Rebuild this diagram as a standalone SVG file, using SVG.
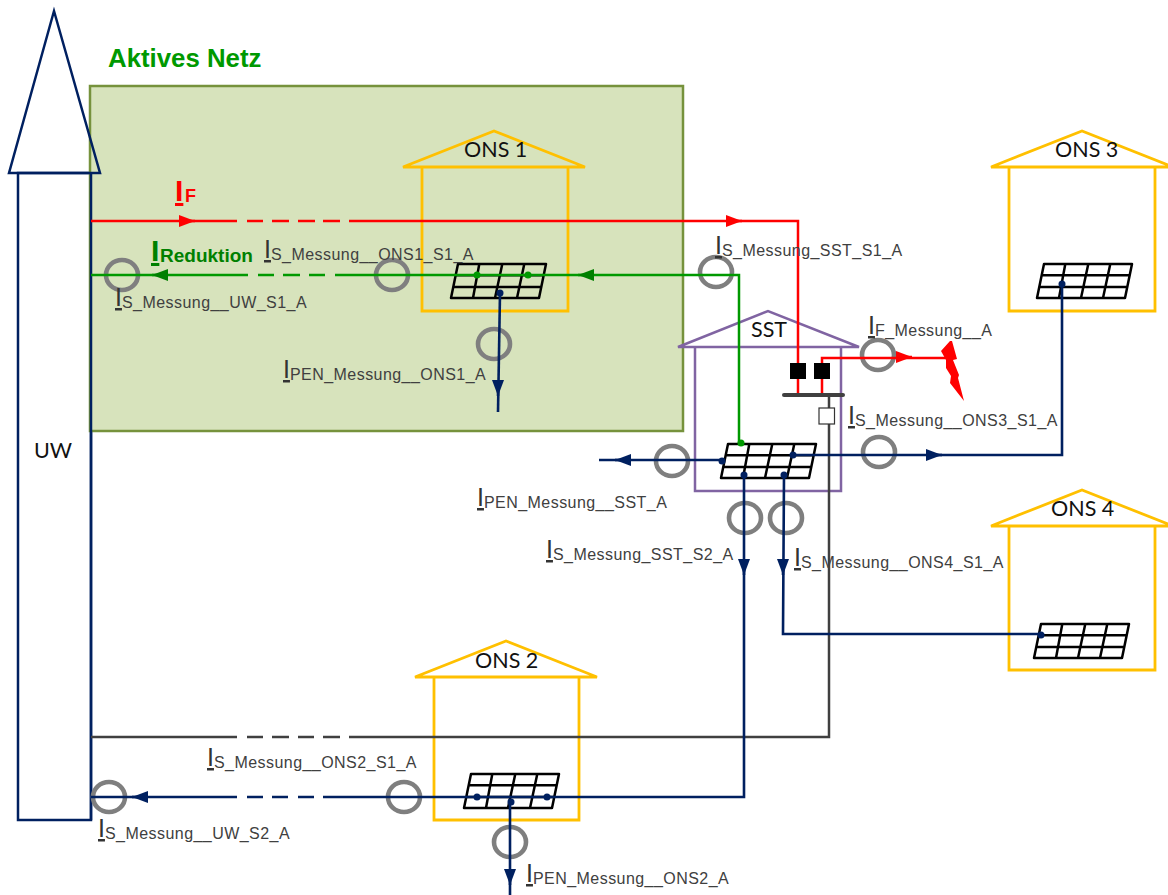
<svg xmlns="http://www.w3.org/2000/svg" xmlns:xlink="http://www.w3.org/1999/xlink" width="1168" height="895" viewBox="0 0 1168 895">
<style>
.house{fill:none;stroke:#FFC000;stroke-width:2.8;stroke-linejoin:miter}
.sst{fill:none;stroke:#8064A2;stroke-width:2.5}
.uw{stroke:#002060;stroke-width:2.5;stroke-linejoin:miter}
.grid{fill:none;stroke:#000;stroke-width:2.5;stroke-linejoin:round}
.ring{fill:none;stroke:#7F7F7F;stroke-width:4.600}
.red{fill:none;stroke:#FF0000;stroke-width:2.500}
.grn{fill:none;stroke:#009900;stroke-width:2.500}
.nav{fill:none;stroke:#002060;stroke-width:2.600}
.gry{fill:none;stroke:#404040;stroke-width:2.500}
.dn{fill:#002060}.dg{fill:#009900}
.name{font-family:"Lato","Liberation Sans",sans-serif;font-size:21.500px;fill:#111}
.lbl{font-family:"Liberation Sans",Arial,sans-serif;fill:#404040;font-size:16px;letter-spacing:.45px}
.lbl .i{font-size:25px;letter-spacing:0;text-decoration:underline;fill:#333}
.red-t{font-family:"Liberation Sans",Arial,sans-serif;font-weight:bold;fill:#FF0000}
.grn-t{font-family:"Liberation Sans",Arial,sans-serif;font-weight:bold;fill:#008000}
</style>
<defs>
<marker id="aN" markerUnits="userSpaceOnUse" viewBox="0 0 16 12" refX="16" refY="6" markerWidth="16" markerHeight="12" orient="auto"><path d="M0,0L16,6L0,12Z" fill="#002060"/></marker>
<marker id="aR" markerUnits="userSpaceOnUse" viewBox="0 0 16 12" refX="16" refY="6" markerWidth="16" markerHeight="12" orient="auto"><path d="M0,0L16,6L0,12Z" fill="#FF0000"/></marker>
<marker id="aG" markerUnits="userSpaceOnUse" viewBox="0 0 16 12" refX="16" refY="6" markerWidth="16" markerHeight="12" orient="auto"><path d="M0,0L16,6L0,12Z" fill="#008000"/></marker>
<path id="g" class="grid" d="M7,0H95L88,34H0ZM4.700,11.300H92.600M2.400,23H90.200M28.300,0L22,34M51.300,0L44,34M73.300,0L66,34"/>
</defs>

<g id="UW">
<polygon points="9,173 54,11 100,173" fill="#fff" stroke="none"/>
<rect x="18" y="173" width="73" height="647" fill="#fff" class="uw"/>
</g>
<g id="aktives-netz">
<rect x="90" y="86" width="593" height="345" fill="#D7E3BC" stroke="#76923C" stroke-width="2.5"/>
</g>
<g id="UW-outline">
<polygon points="9,173 54,11 100,173" fill="none" class="uw"/>
<path d="M91,173V820" fill="none" class="uw"/>
<text class="name" x="34" y="458">UW</text>
</g>
<text x="108" y="67" font-family="Liberation Sans, Arial, sans-serif" font-weight="bold" font-size="25.800" fill="#009900">Aktives Netz</text>

<g id="ONS1"><path class="house" d="M403,167L494,131L585,167ZM422,167V311H568V167"/><use xlink:href="#g" href="#g" x="451" y="264"/><text class="name" x="464" y="157">ONS 1</text></g>
<g id="ONS2"><path class="house" d="M415,677L506,641L597,677ZM434,677V820H579V677"/><use xlink:href="#g" href="#g" x="464" y="774"/><text class="name" x="475" y="668">ONS 2</text></g>
<g id="ONS3"><path class="house" d="M991,167L1082,131L1173,167ZM1009,167V311H1155V167"/><use xlink:href="#g" href="#g" x="1037" y="264"/><text class="name" x="1055" y="157">ONS 3</text></g>
<g id="ONS4"><path class="house" d="M991,526L1082,490L1173,526ZM1009,526V670H1155V526"/><use xlink:href="#g" href="#g" x="1034" y="624"/><text class="name" x="1051" y="516">ONS 4</text></g>
<g id="SST"><path class="sst" d="M678,347L768,311L859,347ZM695,347V491H841V347"/><use xlink:href="#g" href="#g" x="721" y="444"/><text class="name" x="751" y="337">SST</text></g>

<g id="messpunkte">
<ellipse class="ring" cx="122" cy="275" rx="16" ry="15"/>
<ellipse class="ring" cx="392" cy="275" rx="16" ry="15"/>
<ellipse class="ring" cx="716" cy="272" rx="16" ry="15"/>
<ellipse class="ring" cx="494" cy="344" rx="16" ry="15"/>
<ellipse class="ring" cx="878" cy="355" rx="16" ry="15"/>
<ellipse class="ring" cx="879" cy="452" rx="16" ry="15"/>
<ellipse class="ring" cx="672" cy="461" rx="16" ry="15"/>
<ellipse class="ring" cx="745" cy="518" rx="16" ry="15"/>
<ellipse class="ring" cx="786" cy="518" rx="16" ry="15"/>
<ellipse class="ring" cx="404" cy="797" rx="16" ry="15"/>
<ellipse class="ring" cx="109" cy="797" rx="16" ry="15"/>
<ellipse class="ring" cx="510" cy="842" rx="16" ry="15"/>
</g>

<g id="connectors">
<path class="gry" d="M829,395V737H349M340,737H323M314,737H298M289,737H272M263,737H247M237,737H91"/>
<path class="red" d="M91,221H237M247,221H263M272,221H289M298,221H315M323,221H340M349,221H798V395"/>
<path class="red" d="M822,395V358H947"/>
<path class="red" d="M185,221H195" marker-end="url(#aR)"/>
<path class="red" d="M732,221H742" marker-end="url(#aR)"/>
<path class="red" d="M902,357H912" marker-end="url(#aR)"/>
<path class="grn" d="M91,275H248M258,275H274M283,275H300M309,275H325M335,275H739V443"/>
<path class="grn" d="M162,275H152" marker-end="url(#aG)"/>
<path class="grn" d="M588,275H578" marker-end="url(#aG)"/>
<path class="nav" d="M500,293L498,412"/>
<path class="nav" d="M498,385V396" marker-end="url(#aN)"/>
<path class="nav" d="M599,460H722"/>
<path class="nav" d="M625,460H615" marker-end="url(#aN)"/>
<path class="nav" d="M793,455H1062V284"/>
<path class="nav" d="M932,455H942" marker-end="url(#aN)"/>
<path class="nav" d="M744,475V797H323M314,797H298M288,797H272M263,797H247M237,797H91"/>
<path class="nav" d="M744,565V575" marker-end="url(#aN)"/>
<path class="nav" d="M142,797H132" marker-end="url(#aN)"/>
<path class="nav" d="M784,475L783,634H1041"/>
<path class="nav" d="M783,565V575" marker-end="url(#aN)"/>
<path class="nav" d="M510,802V895"/>
<path class="nav" d="M510,875V885" marker-end="url(#aN)"/>
<circle class="dg" cx="477" cy="275" r="3.500"/>
<circle class="dg" cx="528" cy="275" r="3.500"/>
<circle class="dg" cx="741" cy="443" r="3.500"/>
<circle class="dn" cx="500" cy="293" r="3.500"/>
<circle class="dn" cx="722" cy="461" r="3.500"/>
<circle class="dn" cx="793" cy="455" r="3.500"/>
<circle class="dn" cx="744" cy="475" r="3.500"/>
<circle class="dn" cx="784" cy="475" r="3.500"/>
<circle class="dn" cx="1062" cy="284" r="3.500"/>
<circle class="dn" cx="1041" cy="635" r="3.500"/>
<circle class="dn" cx="477" cy="797" r="3.500"/>
<circle class="dn" cx="547" cy="797" r="3.500"/>
<circle class="dn" cx="511" cy="802" r="3.500"/>
</g>

<g id="schaltanlage">
<rect x="790" y="363" width="16" height="16" fill="#000"/>
<rect x="814" y="363" width="16" height="16" fill="#000"/>
<path d="M784,395H843" stroke="#404040" stroke-width="4" stroke-linecap="round"/>
<rect x="819" y="408" width="15.500" height="16" fill="#fff" stroke="#333" stroke-width="1.200"/>
</g>
<polygon id="fehler" fill="#FF0000" points="950,341 941,351 946,360 946,368 951,376 950,383 964,401 958,378 959,375 953,360 957,359 952,341"/>

<g id="labels">
<text x="175" y="201" class="red-t" font-size="30" text-decoration="underline">I</text>
<text x="185" y="202" class="red-t" font-size="18">F</text>
<text x="151" y="261" class="grn-t" font-size="30" text-decoration="underline">I</text>
<text x="160" y="262" class="grn-t" font-size="19">Reduktion</text>
<text class="lbl" x="115" y="306"><tspan class="i">I</tspan><tspan dy="2">S_Messung__UW_S1_A</tspan></text>
<text class="lbl" x="264" y="258"><tspan class="i">I</tspan><tspan dy="2">S_Messung__ONS1_S1_A</tspan></text>
<text class="lbl" x="715" y="254"><tspan class="i">I</tspan><tspan dy="2">S_Messung_SST_S1_A</tspan></text>
<text class="lbl" x="868" y="334"><tspan class="i">I</tspan><tspan dy="2">F_Messung__A</tspan></text>
<text class="lbl" x="848" y="424"><tspan class="i">I</tspan><tspan dy="2">S_Messung__ONS3_S1_A</tspan></text>
<text class="lbl" x="283" y="378"><tspan class="i">I</tspan><tspan dy="2">PEN_Messung__ONS1_A</tspan></text>
<text class="lbl" x="477" y="506"><tspan class="i">I</tspan><tspan dy="2">PEN_Messung__SST_A</tspan></text>
<text class="lbl" x="546" y="558"><tspan class="i">I</tspan><tspan dy="2">S_Messung_SST_S2_A</tspan></text>
<text class="lbl" x="794" y="566"><tspan class="i">I</tspan><tspan dy="2">S_Messung__ONS4_S1_A</tspan></text>
<text class="lbl" x="207" y="766"><tspan class="i">I</tspan><tspan dy="2">S_Messung__ONS2_S1_A</tspan></text>
<text class="lbl" x="98" y="837"><tspan class="i">I</tspan><tspan dy="2">S_Messung__UW_S2_A</tspan></text>
<text class="lbl" x="526" y="882"><tspan class="i">I</tspan><tspan dy="2">PEN_Messung__ONS2_A</tspan></text>
</g>
</svg>
